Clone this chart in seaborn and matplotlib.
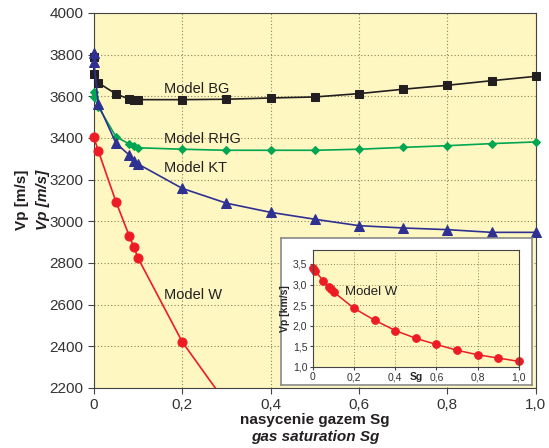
import numpy as np
import pandas as pd
import seaborn as sns
import matplotlib.pyplot as plt
from matplotlib.ticker import FuncFormatter

# Gas saturation values (shared by all models)
sg = [0.0, 0.01, 0.05, 0.08, 0.09, 0.1, 0.2, 0.3, 0.4, 0.5, 0.6, 0.7, 0.8, 0.9, 1.0]

# Model BG (black squares), extra point at Sg=0
bg_sg = [0.0, 0.0] + sg[1:]
bg_vp = [3790, 3707, 3665, 3611, 3587, 3584, 3584, 3584, 3586, 3592,
         3597, 3613, 3634, 3653, 3675, 3696]

# Model RHG (green diamonds)
rhg_sg = [0.0, 0.0] + sg[1:]
rhg_vp = [3622, 3598, 3550, 3406, 3371, 3363, 3353, 3346, 3341, 3341,
          3341, 3346, 3355, 3363, 3373, 3381]

# Model KT (blue triangles)
kt_sg = [0.0, 0.0] + sg[1:]
kt_vp = [3806, 3766, 3562, 3375, 3318, 3291, 3275, 3158, 3087, 3043,
         3010, 2979, 2968, 2960, 2947, 2947]

# Model W (red circles), m/s
w_sg = sg
w_vp = [3403, 3338, 3094, 2930, 2878, 2823, 2421, 2125, 1875, 1690,
        1540, 1400, 1290, 1205, 1125]

# Inset Model W, km/s
w_vp_km = [3.40, 3.34, 3.09, 2.93, 2.88, 2.82, 2.42, 2.13, 1.88, 1.69,
           1.54, 1.40, 1.29, 1.21, 1.13]

main_xticks = [0, 0.2, 0.4, 0.6, 0.8, 1.0]
main_yticks = [2200, 2400, 2600, 2800, 3000, 3200, 3400, 3600, 3800, 4000]
inset_yticks = [1.0, 1.5, 2.0, 2.5, 3.0, 3.5]

C_BG = '#231f20'
C_RHG = '#00a651'
C_KT = '#2e3192'
C_W = '#ed1c24'
BG_YELLOW = '#fff7c2'

sns.set_style('ticks')
plt.rcParams['font.family'] = ['Liberation Sans', 'DejaVu Sans']
plt.rcParams['axes.edgecolor'] = '#444444'

def comma(v, pos):
    if v == 0:
        return '0'
    return f'{v:.1f}'.replace('.', ',')

fig = plt.figure(figsize=(5.49, 4.48), dpi=100)
ax = fig.add_axes([0.171, 0.134, 0.805, 0.837])
ax.set_facecolor(BG_YELLOW)

series = [
    (bg_sg, bg_vp, C_BG, 's', 6),
    (rhg_sg, rhg_vp, C_RHG, 'D', 4.5),
    (kt_sg, kt_vp, C_KT, '^', 6.5),
]
for xs, ys, col, mk, ms in series:
    df = pd.DataFrame({'sg': xs, 'vp': ys})
    sns.lineplot(data=df, x='sg', y='vp', ax=ax, color=col, marker=mk,
                 markersize=ms, markeredgecolor=col, linewidth=1.2,
                 estimator=None, sort=False)
    ax.lines[-1].set_clip_on(False)
    ax.lines[-1].set_zorder(3)

# Model W: line clipped at the axis bottom, visible markers drawn unclipped
df_w = pd.DataFrame({'sg': w_sg, 'vp': w_vp})
sns.lineplot(data=df_w, x='sg', y='vp', ax=ax, color=C_W, linewidth=1.2,
             estimator=None, sort=False)
df_w_vis = df_w[df_w['vp'] >= 2200]
sns.lineplot(data=df_w_vis, x='sg', y='vp', ax=ax, color=C_W, marker='o',
             markersize=6.5, markeredgecolor=C_W, linestyle='none',
             estimator=None, sort=False)
ax.lines[-1].set_clip_on(False)
ax.lines[-1].set_zorder(3)

ax.set_xlim(0, 1.0)
ax.set_ylim(2200, 4000)
ax.set_xticks(main_xticks)
ax.set_yticks(main_yticks)
ax.xaxis.set_major_formatter(FuncFormatter(comma))
ax.grid(True, linestyle=(0, (1, 2)), color='#8a845a', linewidth=0.8)
ax.tick_params(labelsize=11, length=4, color='#444444', labelcolor='#333333')
ax.set_xlabel('')
ax.set_ylabel('')

fs_lab = 10.5
ax.text(0.158, 3635, 'Model BG', fontsize=fs_lab, color='#231f20', va='center')
ax.text(0.158, 3395, 'Model RHG', fontsize=fs_lab, color='#231f20', va='center')
ax.text(0.158, 3256, 'Model KT', fontsize=fs_lab, color='#231f20', va='center')
ax.text(0.158, 2647, 'Model W', fontsize=fs_lab, color='#231f20', va='center')

# axis titles (Polish / English)
fig.text(0.040, 0.554, 'Vp [m/s]', rotation=90, fontsize=11, fontweight='bold',
         ha='center', va='center', color='#231f20')
fig.text(0.078, 0.554, 'Vp [m/s]', rotation=90, fontsize=11, fontweight='bold',
         style='italic', ha='center', va='center', color='#231f20')
fig.text(0.574, 0.0625, 'nasycenie gazem Sg', fontsize=11, fontweight='bold',
         ha='center', va='center', color='#231f20')
fig.text(0.574, 0.0246, 'gas saturation Sg', fontsize=11, fontweight='bold',
         style='italic', ha='center', va='center', color='#231f20')

# inset white frame
box = fig.add_axes([0.512, 0.141, 0.457, 0.328])
box.set_facecolor('white')
box.set_xticks([])
box.set_yticks([])
for s in box.spines.values():
    s.set_color('#8a8a8a')
    s.set_linewidth(1.2)

ins = fig.add_axes([0.570, 0.1815, 0.375, 0.2605])
ins.set_facecolor(BG_YELLOW)
df_in = pd.DataFrame({'sg': w_sg, 'vp': w_vp_km})
sns.lineplot(data=df_in, x='sg', y='vp', ax=ins, color=C_W, marker='o',
             markersize=5.5, markeredgecolor=C_W, linewidth=1.1,
             estimator=None, sort=False)
ins.lines[-1].set_clip_on(False)
ins.set_xlim(0, 1.0)
ins.set_ylim(1.0, 3.84)
ins.set_xticks(main_xticks)
ins.set_yticks(inset_yticks)
ins.xaxis.set_major_formatter(FuncFormatter(comma))
ins.yaxis.set_major_formatter(FuncFormatter(comma))
ins.grid(True, linestyle=(0, (1, 2)), color='#8a845a', linewidth=0.7)
ins.tick_params(labelsize=7.5, length=2.5, pad=1.5, color='#444444', labelcolor='#333333')
ins.set_xlabel('')
ins.set_ylabel('Vp [km/s]', fontsize=7.5, fontweight='bold', labelpad=2)
ins.text(0.5, -0.045, 'Sg', transform=ins.transAxes, fontsize=7.5,
         fontweight='bold', ha='center', va='top')
ins.text(0.155, 2.82, 'Model W', fontsize=9.5, color='#231f20', va='center')

fig.savefig('out.png', dpi=100)
